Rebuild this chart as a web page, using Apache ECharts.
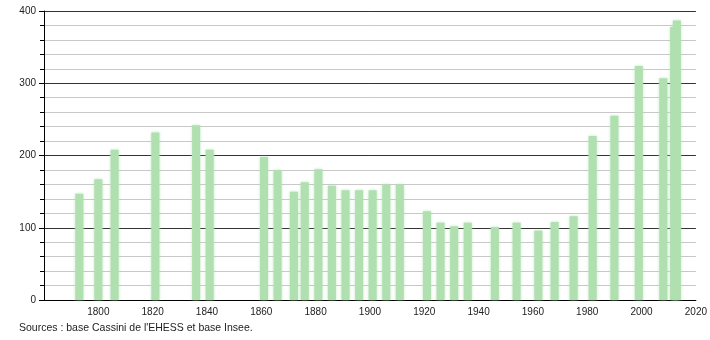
<!DOCTYPE html>
<html>
<head>
<meta charset="utf-8">
<script src="https://cdn.jsdelivr.net/npm/echarts@6/dist/echarts.min.js"></script>
<style>
html,body{margin:0;padding:0;background:#fff;}
#chart{width:710px;height:340px;}
</style>
</head>
<body>
<div id="chart"></div>
<script>
var years = [1793,1800,1806,1821,1836,1841,1861,1866,1872,1876,1881,1886,1891,1896,1901,1906,1911,1921,1926,1931,1936,1946,1954,1962,1968,1975,1982,1990,1999,2008,2012,2013];
var population = [147,167,208,232,242,208,198,180,150,163,181,158,152,152,152,160,160,123,107,102,107,101,107,96,108,116,227,255,324,307,378,387];
var xTicks = [1800,1820,1840,1860,1880,1900,1920,1940,1960,1980,2000,2020];
var yTicks = [0,100,200,300,400];
var sourceText = "Sources : base Cassini de l'EHESS et base Insee.";

var chart = echarts.init(document.getElementById('chart'), null, {renderer:'canvas'});
var data = years.map(function(y,i){return [y, population[i]];});
chart.setOption({
  animation:false,
  backgroundColor:'#fff',
  grid:{left:44,right:13,top:11,bottom:40,containLabel:false},
  xAxis:{
    type:'value', min:1780, max:2020, interval:20,
    axisLine:{show:true,onZero:false,lineStyle:{color:'#000',width:1}},
    axisTick:{show:false},
    splitLine:{show:false},
    axisLabel:{
      color:'#222', fontSize:10, fontFamily:'Liberation Sans, Arial, sans-serif', margin:7,
      formatter:function(v){return xTicks.indexOf(v)>=0 ? String(v) : '';}
    }
  },
  yAxis:{
    type:'value', min:0, max:400, interval:100,
    axisLine:{show:true,lineStyle:{color:'#000',width:1}},
    axisTick:{show:true,length:5,lineStyle:{color:'#000'}},
    minorTick:{show:true,splitNumber:5,length:4,lineStyle:{color:'#000'}},
    splitLine:{show:true,lineStyle:{color:'#333',width:1}},
    minorSplitLine:{show:true,lineStyle:{color:'#c8c8c8',width:1}},
    axisLabel:{
      color:'#222', fontSize:10, fontFamily:'Liberation Sans, Arial, sans-serif', margin:8,
      formatter:function(v){return yTicks.indexOf(v)>=0 ? String(v) : '';}
    }
  },
  series:[{
    type:'bar',
    data:data,
    barWidth:8,
    itemStyle:{color:'#b0e0b0',shadowBlur:3,shadowColor:'rgba(176,224,176,0.8)'},
    z:3
  }],
  graphic:[{
    type:'text', left:19, top:323,
    style:{text:sourceText, fill:'#222', font:'10.5px "Liberation Sans", Arial, sans-serif'}
  }]
});
</script>
</body>
</html>
